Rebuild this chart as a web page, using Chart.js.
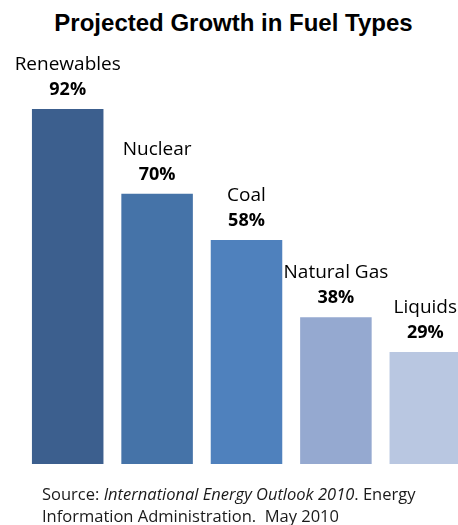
<!DOCTYPE html>
<html>
<head>
<meta charset="utf-8">
<script src="https://cdn.jsdelivr.net/npm/chart.js@4"></script>
<style>
    html, body { margin: 0; padding: 0; width: 458px; height: 525px; overflow: hidden; background: #fff; }
    #wrap { position: relative; width: 458px; height: 525px; overflow: hidden; }
    #chartTitle {
        position: absolute; left: 0; top: 9px; width: 467px; text-align: center;
        font-family: 'Liberation Sans', Arial, sans-serif; font-weight: bold; font-size: 24px; line-height: 28px; color: #000;
        white-space: nowrap;
    }
    #fuelChart { position: absolute; left: 0; top: 0; }
    #source {
        position: absolute; left: 42px; top: 483px; white-space: nowrap;
        font-family: 'Open Sans', sans-serif; font-size: 16.5px; line-height: 22px; color: #1a1a1a;
    }
</style>
</head>
<body>
<div id="wrap">
    <div id="chartTitle">Projected Growth in Fuel Types</div>
    <canvas id="fuelChart" width="472" height="525"></canvas>
    <div id="source">Source: <i>International Energy Outlook 2010</i>. Energy<br>Information Administration.&nbsp; May 2010</div>
</div>
<script>
// 연료별 성장률 (%)
const fuelTypes = ['Renewables', 'Nuclear', 'Coal', 'Natural Gas', 'Liquids'];
const growthValues = [92, 70, 58, 38, 29];
const barColors = ['#3C5F8E', '#4573A8', '#4F81BD', '#95A9D0', '#B9C7E1'];

// 막대 위에 이름 + 값 표시
const barLabels = {
    id: 'barLabels',
    afterDatasetsDraw(chart) {
        const ctx = chart.ctx;
        const meta = chart.getDatasetMeta(0);
        ctx.save();
        ctx.textAlign = 'center';
        ctx.textBaseline = 'alphabetic';
        ctx.fillStyle = '#000';
        meta.data.forEach((bar, i) => {
            const v = chart.data.datasets[0].data[i];
            ctx.font = 'bold 18px "Open Sans", sans-serif';
            ctx.fillText(v + '%', bar.x, bar.y - 14);
            ctx.font = '19px "Open Sans", sans-serif';
            ctx.fillText(chart.data.labels[i], bar.x, bar.y - 39);
        });
        ctx.restore();
    }
};

const fuelCtx = document.getElementById('fuelChart').getContext('2d');
const fuelChart = new Chart(fuelCtx, {
    type: 'bar',
    data: {
        labels: fuelTypes,
        datasets: [{
            data: growthValues,
            backgroundColor: barColors,
            borderWidth: 0,
            barPercentage: 1,
            categoryPercentage: 0.8,
        }]
    },
    options: {
        responsive: false,
        animation: false,
        layout: {
            padding: { left: 23, right: 2, top: 78, bottom: 61 }
        },
        plugins: {
            legend: { display: false },
            title: { display: false },
            tooltip: { enabled: false },
        },
        scales: {
            x: { display: false, offset: true },
            y: { display: false, min: 0, max: 100 }
        }
    },
    plugins: [barLabels]
});
</script>
</body>
</html>
